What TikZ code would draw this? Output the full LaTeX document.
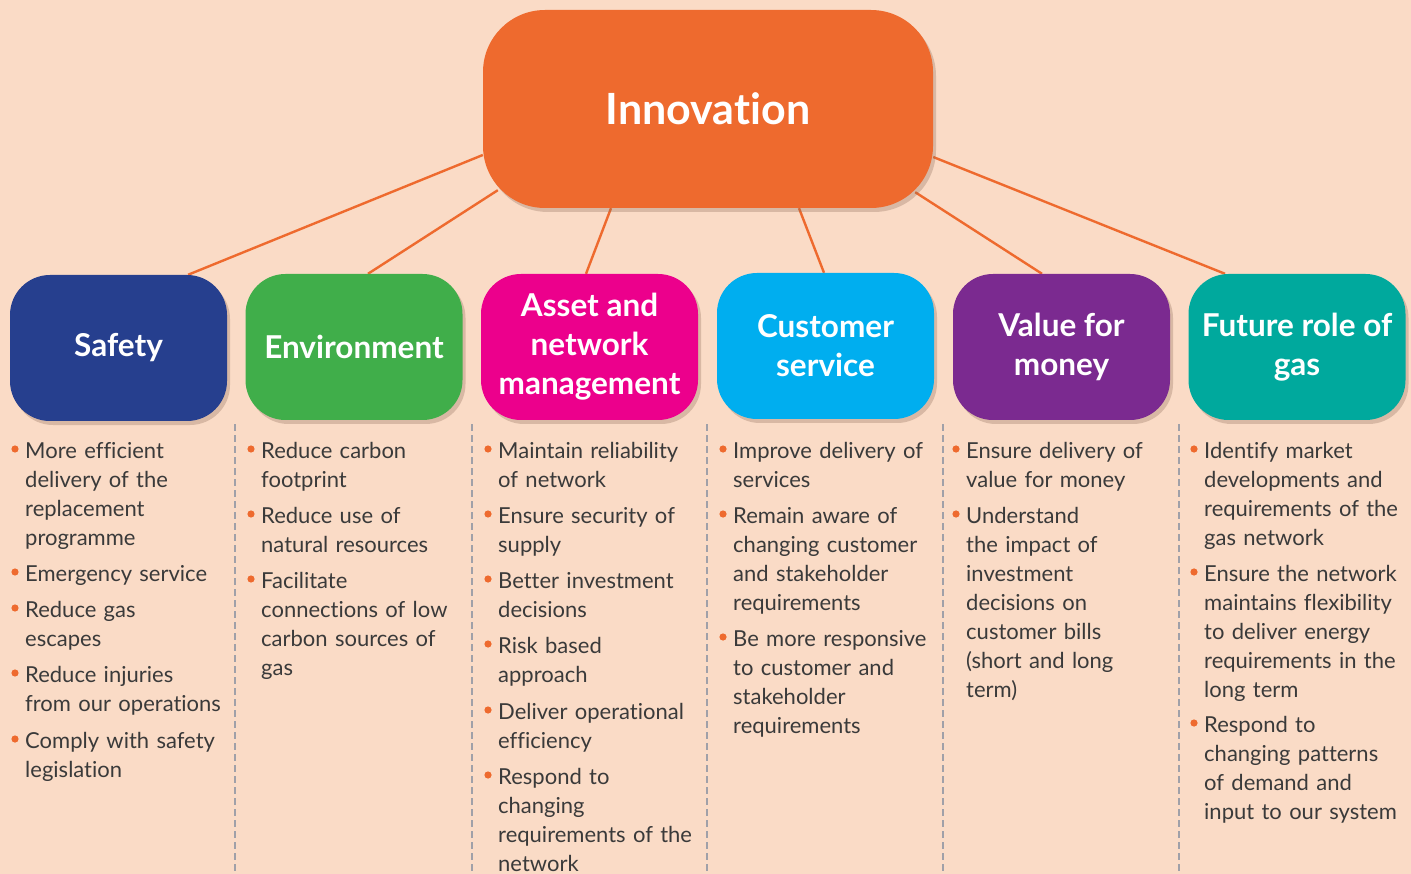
\documentclass[tikz,border=0pt]{standalone}
\usepackage{fontspec}
\setmainfont{Lato}[Ligatures=NoCommon]
\usetikzlibrary{shadows}
\definecolor{bgc}{HTML}{FADBC6}
\definecolor{innc}{HTML}{EE6A2E}
\definecolor{safc}{HTML}{263F8E}
\definecolor{envc}{HTML}{40AE4A}
\definecolor{assc}{HTML}{EC008C}
\definecolor{cusc}{HTML}{00AEEF}
\definecolor{valc}{HTML}{7B2A90}
\definecolor{futc}{HTML}{00A99D}
\definecolor{txtc}{HTML}{3A3A3A}
\definecolor{dashc}{HTML}{A0A0A8}
\definecolor{shc}{HTML}{8A6A58}
\pgfdeclarelayer{bglayer}
\pgfdeclarelayer{linelayer}
\pgfsetlayers{bglayer,linelayer,main}
\newcommand{\bitem}[4]{%
  \node[items] (#1) at (#2,#3) {#4};
  \fill[innc] ([shift={(-10pt,9pt)}]#1.base west) circle (3.6pt);}
\tikzset{
  catbox/.style={draw=none, rounded corners=40pt, minimum width=217pt, minimum height=146pt,
    text=white, font=\fontsize{31.5pt}{39pt}\selectfont\bfseries, align=center, inner sep=0pt,
    drop shadow={shadow xshift=3pt, shadow yshift=-4pt, opacity=0.3, fill=shc}},
  innbox/.style={catbox, fill=innc, rounded corners=62pt, minimum width=450pt, minimum height=198pt,
    font=\fontsize{43pt}{48pt}\selectfont\bfseries},
  conn/.style={draw=innc, line width=2.4pt},
  sep/.style={draw=dashc, line width=2pt, dash pattern=on 7pt off 4pt},
  items/.style={anchor=base west, text width=225pt, align=left, inner sep=0pt, text=txtc,
    font=\fontsize{22pt}{29pt}\selectfont}
}
\begin{document}
\begin{tikzpicture}[x=1pt,y=-1pt]
\begin{pgfonlayer}{bglayer}
\fill[bgc] (0,0) rectangle (1411,874);
\end{pgfonlayer}
\useasboundingbox (0,0) rectangle (1411,874);

\node[innbox] (innov) at (708,109) {Innovation};
\node[catbox, fill=safc] (safety) at (118.5,348) {Safety};
\node[catbox, fill=envc] (env) at (354,347) {Environment};
\node[catbox, fill=assc] (asset) at (589.5,347) {Asset and\\network\\management};
\node[catbox, fill=cusc] (cust) at (825.5,346) {Customer\\service};
\node[catbox, fill=valc] (value) at (1061.5,347) {Value for\\money};
\node[catbox, fill=futc] (future) at (1297,347) {Future role of\\gas};

\begin{pgfonlayer}{linelayer}
\draw[conn] ([yshift=-46pt]innov.west) -- ([xshift=69.5pt]safety.north);
\draw[conn] ([xshift=15pt,yshift=18pt]innov.south west) -- ([xshift=14pt]env.north);
\draw[conn] ([xshift=-97pt]innov.south) -- ([xshift=-3.5pt]asset.north);
\draw[conn] ([xshift=91pt]innov.south) -- ([xshift=-1.5pt]cust.north);
\draw[conn] ([xshift=-18pt,yshift=16pt]innov.south east) -- ([xshift=-19.5pt]value.north);
\draw[conn] ([yshift=-48pt]innov.east) -- ([xshift=-72pt]future.north);
\end{pgfonlayer}

\coordinate (s1t) at (235,424); \coordinate (s1b) at (235,874);
\coordinate (s2t) at (472,424); \coordinate (s2b) at (472,874);
\coordinate (s3t) at (707,424); \coordinate (s3b) at (707,874);
\coordinate (s4t) at (943,424); \coordinate (s4b) at (943,874);
\coordinate (s5t) at (1179,424); \coordinate (s5b) at (1179,874);
\draw[sep] (s1t) -- (s1b);
\draw[sep] (s2t) -- (s2b);
\draw[sep] (s3t) -- (s3b);
\draw[sep] (s4t) -- (s4b);
\draw[sep] (s5t) -- (s5b);

\bitem{a1}{25}{458}{More efficient\\delivery of the\\replacement\\programme}
\bitem{a2}{25}{581}{Emergency service}
\bitem{a3}{25}{617}{Reduce gas\\escapes}
\bitem{a4}{25}{682}{Reduce injuries\\from our operations}
\bitem{a5}{25}{748}{Comply with safety\\legislation}

\bitem{b1}{261}{458}{Reduce carbon\\footprint}
\bitem{b2}{261}{523}{Reduce use of\\natural resources}
\bitem{b3}{261}{588}{Facilitate\\connections of low\\carbon sources of\\gas}

\bitem{c1}{498}{458}{Maintain reliability\\of network}
\bitem{c2}{498}{523}{Ensure security of\\supply}
\bitem{c3}{498}{588}{Better investment\\decisions}
\bitem{c4}{498}{653}{Risk based\\approach}
\bitem{c5}{498}{719}{Deliver operational\\efficiency}
\bitem{c6}{498}{784}{Respond to\\changing\\requirements of the\\network}

\bitem{d1}{733}{458}{Improve delivery of\\services}
\bitem{d2}{733}{523}{Remain aware of\\changing customer\\and stakeholder\\requirements}
\bitem{d3}{733}{646}{Be more responsive\\to customer and\\stakeholder\\requirements}

\bitem{e1}{966}{458}{Ensure delivery of\\value for money}
\bitem{e2}{966}{523}{Understand\\the impact of\\investment\\decisions on\\customer bills\\(short and long\\term)}

\bitem{f1}{1204}{458}{Identify market\\developments and\\requirements of the\\gas network}
\bitem{f2}{1204}{581}{Ensure the network\\maintains flexibility\\to deliver energy\\requirements in the\\long term}
\bitem{f3}{1204}{732}{Respond to\\changing patterns\\of demand and\\input to our system}
\end{tikzpicture}
\end{document}
